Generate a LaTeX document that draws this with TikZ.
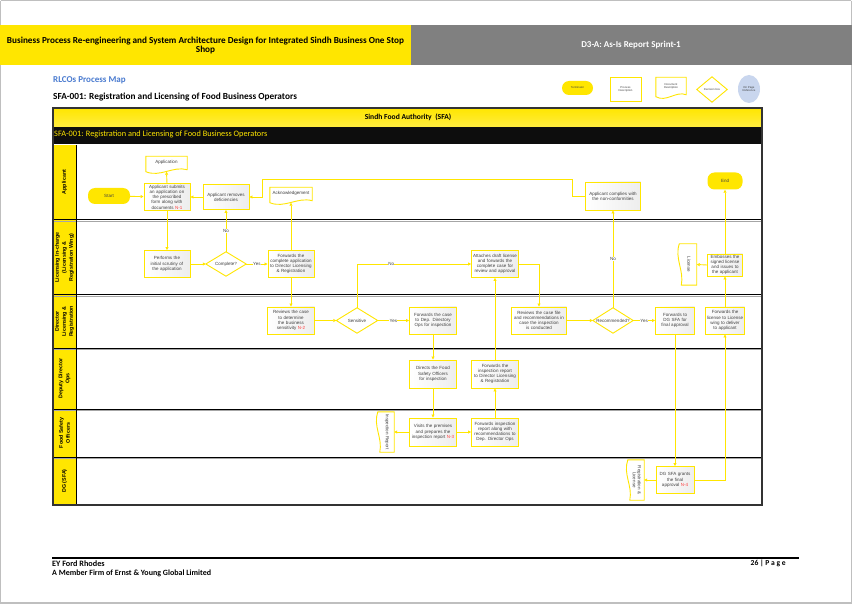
\documentclass[tikz,border=0pt]{standalone}
\usepackage{fontspec}
\setmainfont{Liberation Sans}
\newfontfamily\hdfont{Carlito}
\usetikzlibrary{arrows.meta,calc,shapes.geometric}
\definecolor{eyy}{HTML}{FFE600}
\definecolor{eyg}{HTML}{808080}
\definecolor{txtc}{HTML}{404040}
\definecolor{rlblue}{HTML}{4A7BD0}
\definecolor{refblue}{HTML}{C9D6EE}
\definecolor{nred}{HTML}{FF3B3B}
\newcommand\bxf{\fontsize{4.5}{5.2}\selectfont\hyphenpenalty=10000\exhyphenpenalty=10000}
\newcommand\nref[1]{\textcolor{nred}{#1}}
\newcommand\docH[1]{\draw[docln] (#1.north west) -- (#1.north east) -- ($(#1.south east)+(0,-2)$) .. controls ($(#1.south east)!0.35!(#1.south west)+(0,-6)$) and ($(#1.south east)!0.65!(#1.south west)+(0,6)$) .. ($(#1.south west)+(0,0)$) -- cycle;}
\newcommand\docV[1]{\draw[docln] (#1.north east) -- (#1.south east) -- ($(#1.south west)+(2,0)$) .. controls ($(#1.south west)!0.35!(#1.north west)+(5,0)$) and ($(#1.south west)!0.65!(#1.north west)+(-5,0)$) .. ($(#1.north west)+(0,0)$) -- cycle;}
\newcommand\diam[1]{\draw[docln] (#1.north) -- (#1.east) -- (#1.south) -- (#1.west) -- cycle;}
\begin{document}
\begin{tikzpicture}[x=1pt,y=-1pt,
  pbox/.style n args={2}{draw=eyy,line width=0.9pt,left color=white,right color=black!7,
     text width=#1pt,minimum height=#2pt,inner sep=1pt,align=center,font=\bxf,text=txtc},
  docbox/.style n args={2}{minimum width=#1pt,minimum height=#2pt,inner sep=0pt,align=center,font=\bxf,text=txtc},
  docln/.style={draw=eyy,line width=0.9pt},
  term/.style n args={2}{fill=eyy,rounded corners=7pt,minimum width=#1pt,minimum height=#2pt,inner sep=0pt,font=\bxf,text=txtc},
  conn/.style={draw=eyy,line width=0.9pt,-{Triangle[length=3pt,width=3pt]}},
  lbl/.style={fill=white,inner sep=0.4pt,font=\bxf,text=txtc},
  lane/.style={font=\fontsize{5.3}{7}\selectfont\bfseries,rotate=90,align=center,text=black},
  sep/.style={draw=black,line width=1pt},
  legtxt/.style={font=\fontsize{2.8}{3.3}\selectfont,text=txtc,align=center}
]
\useasboundingbox (0,0) rectangle (852,604);
\fill[white] (0,0) rectangle (852,604);
\draw[black!25,line width=1.2pt] (0.6,0.6) -- (851.4,0.6);
\draw[black!25,line width=1.2pt] (0.6,0.6) -- (0.6,603);
\draw[black!25,line width=1.2pt] (851.4,0.6) -- (851.4,603);
\draw[black!25,line width=2.5pt] (0,602.8) -- (852,602.8);

% page header
\fill[eyy] (0,25) rectangle (411,65);
\fill[eyg] (411,25) rectangle (852,65);
\node[font=\hdfont\bfseries\fontsize{9.2}{9.6}\selectfont,align=center,text=black] (ttl) at (205.5,45.5)
  {Business Process Re-engineering and System Architecture Design for Integrated Sindh Business One Stop\\Shop};
\node[font=\hdfont\bfseries\fontsize{9}{10}\selectfont,text=white] (rep) at (631,45) {D3-A: As-Is Report Sprint-1};
\node[font=\hdfont\bfseries\fontsize{9}{11}\selectfont,text=rlblue,anchor=west,inner sep=0pt] (rl) at (53,80) {RLCOs Process Map};
\node[font=\hdfont\bfseries\fontsize{9.3}{10}\selectfont,text=black,anchor=west,inner sep=0pt] (sfat) at (53,97) {SFA-001: Registration and Licensing of Food Business Operators};

% legend
\node[term={31}{14}] (lg1) at (577.5,88) {};
\node[legtxt] (lg1t) at (lg1) {Terminator};
\node[docbox={31}{24},draw=eyy,line width=0.7pt] (lg2) at (625.5,89.5) {};
\node[legtxt] (lg2t) at (lg2) {Process\\Description};
\node[docbox={30}{19}] (lg3) at (671,87) {};
\docH{lg3}
\node[legtxt] (lg3t) at (671,86) {Document\\Description};
\node[docbox={30}{25}] (lg4) at (712,89.5) {};
\diam{lg4}
\node[legtxt] (lg4t) at (lg4) {Decision box};
\node[draw=none,fill=refblue,ellipse,minimum width=22pt,minimum height=28pt,inner sep=0pt] (lg5) at (749,89) {};
\node[legtxt] (lg5t) at (lg5) {On Page\\Reference};

% frame
\fill[top color=eyy,bottom color=eyy!75!white] (53,108) rectangle (762,127);
\node[font=\hdfont\bfseries\fontsize{7.6}{8}\selectfont] (sfa) at (408,117.5) {Sindh Food Authority\ \ (SFA)};
\fill[black!95] (53,127) rectangle (762,144);
\node[font=\hdfont\fontsize{8.3}{9}\selectfont,text=eyy,anchor=west,inner sep=0pt] (sfab) at (54,134.5) {SFA-001: Registration and Licensing of Food Business Operators};
\fill[eyy] (53,145) rectangle (76,505);
\foreach \yy in {220,295,348,409,457} {
  \draw[black!35,line width=1pt] (53,\yy+1.3) -- (762,\yy+1.3);
  \draw[sep] (53,\yy) -- (762,\yy);
}
\draw[black,line width=0.8pt] (76,145) -- (76,505);
\draw[black!80,line width=1.3pt] (53,108) rectangle (762,505);

% lane labels
\node[lane] (l1) at (64.5,182) {Applicant};
\node[lane] (l2) at (64.5,257.5) {Licensing In-charge\\(Licensing \&\\Registration Wing)};
\node[lane] (l3) at (64.5,321.5) {Director\\Licensing \&\\Registration};
\node[lane] (l4) at (64.5,378.5) {Deputy Director\\Ops};
\node[lane] (l5) at (64.5,433) {Food Safety\\Officers};
\node[lane] (l6) at (64.5,481) {DG (SFA)};

% Applicant lane
\node[term={42}{16}] (start) at (109,196) {Start};
\node[docbox={41}{15}] (appdoc) at (166.5,164) {};
\docH{appdoc}
\node[font=\bxf,text=txtc] (appdoct) at (166.5,162.5) {Application};
\node[pbox={44}{25}] (submit) at (167,197) {Applicant submits an application on the prescribed form along with documents \nref{N-1}};
\node[pbox={44}{25}] (removes) at (226,197) {Applicant removes deficiencies};
\node[docbox={42}{15}] (ack) at (291,195) {};
\docH{ack}
\node[font=\bxf,text=txtc] (ackt) at (291,193.5) {Acknowledgement};
\node[pbox={53}{28}] (complies) at (613,196) {Applicant complies with the non-conformities};
\node[term={35}{17}] (end) at (725,181) {End};

% Licensing lane
\node[pbox={44}{27}] (scrutiny) at (167,264) {Performs the initial scrutiny of the application};
\node[docbox={40}{24}] (complete) at (226,264) {Complete?};
\diam{complete}
\node[pbox={44}{27}] (fwdapp) at (291,264) {Forwards the complete application to Director Licensing \& Registration};
\node[pbox={45}{27}] (attach) at (495,264) {Attaches draft license and forwards the complete case for review and approval};
\node[docbox={17}{41}] (licdoc) at (688,264.5) {};
\docV{licdoc}
\node[font=\bxf,text=txtc,rotate=-90] (licdoct) at (689,264.5) {License};
\node[pbox={33}{22}] (emboss) at (725,265) {Embosses the signed license and issues to the applicant};

% Director lane
\node[pbox={45}{27}] (review) at (291,320.5) {Reviews the case to determine the business sensitivity \nref{N-2}};
\node[docbox={41}{25}] (sensitive) at (357,320.5) {Sensitive};
\diam{sensitive}
\node[pbox={45}{27}] (fwdcase) at (433,320.5) {Forwards the case to Dep. Directory Ops for inspection};
\node[pbox={53}{27}] (reviewfile) at (539,320.5) {Reviews the case file and recommendations in case the inspection is conducted};
\node[docbox={40}{25}] (recommended) at (613,320.5) {Recommended?};
\diam{recommended}
\node[pbox={37}{27}] (fwddg) at (675,320.5) {Forwards to DG SFA for final approval};
\node[pbox={37}{27}] (fwdlic) at (725,320.5) {Forwards the license to License wing to deliver to applicant};

% Deputy lane
\node[pbox={45}{28}] (directs) at (433,374) {Directs the Food Safety Officers for inspection};
\node[pbox={45}{28}] (fwdrep) at (495,374) {Forwards the inspection report to Director Licensing \& Registration};

% Food Safety lane
\node[docbox={16}{40}] (inspdoc) at (386,432) {};
\docV{inspdoc}
\node[font=\bxf,text=txtc,rotate=-90] (inspdoct) at (387,432) {Inspection Report};
\node[pbox={45}{28}] (visits) at (433,432) {Visits the premises and prepares the inspection report \nref{N-3}};
\node[pbox={45}{28}] (fwdinsp) at (495,432) {Forwards inspection report along with recommendations to Dep. Director Ops};

% DG lane
\node[docbox={16}{40}] (regdoc) at (636,480) {};
\docV{regdoc}
\node[font=\bxf,text=txtc,rotate=-90,align=center] (regdoct) at (637,480) {Registration \&\\License};
\node[pbox={36}{27}] (grants) at (675,480) {DG SFA grants the final approval \nref{N-4}};

% helper coordinates
\coordinate (c1) at (572,179);
\coordinate (c2) at (262,179);

% connectors
\draw[conn] (start) -- (submit);
\draw[conn] (submit.north) -- (appdoc.south);
\draw[conn] (submit.south) -- (scrutiny.north);
\draw[conn] (scrutiny) -- (complete.west);
\draw[conn] (complete.east) -- node[lbl]{Yes} (fwdapp.west);
\draw[conn] (complete.north) -- node[lbl]{No} (removes.south);
\draw[conn] (removes.west) -- (submit.east);
\draw[conn] (fwdapp.north) -- (ack.south);
\draw[conn] (fwdapp.south) -- (review.north);
\draw[conn] (review.east) -- (sensitive.west);
\draw[conn] (sensitive.north) |- node[lbl,pos=0.65]{No} (attach.west);
\draw[conn] (sensitive.east) -- node[lbl]{Yes} (fwdcase.west);
\draw[conn] (fwdcase.south) -- (directs.north);
\draw[conn] (directs.south) -- (visits.north);
\draw[conn] (visits.west) -- (inspdoc.east);
\draw[conn] (visits.east) -- (fwdinsp.west);
\draw[conn] (fwdinsp.north) -- (fwdrep.south);
\draw[conn] (fwdrep.north) -- (attach.south);
\draw[conn] (attach.east) -| (reviewfile.north);
\draw[conn] (reviewfile.east) -- (recommended.west);
\draw[conn] (recommended.north) -- node[lbl]{No} (complies.south);
\draw[conn] (recommended.east) -- node[lbl]{Yes} (fwddg.west);
\draw[conn] (fwddg.south) -- (grants.north);
\draw[conn] (grants.west) -- (regdoc.east);
\draw[conn] (grants.east) -| (fwdlic.south);
\draw[conn] (fwdlic.north) -- (emboss.south);
\draw[conn] (emboss.west) -- (licdoc.east);
\draw[conn] (emboss.north) -- (end.south);
\draw[conn] (complies.west) -| (c1) -- (c2) |- (removes.east);

% footer
\draw[black,line width=1.2pt] (52,558) -- (799,558);
\node[font=\hdfont\bfseries\fontsize{8.2}{9}\selectfont,anchor=west,inner sep=0pt] (f1) at (52,563.5) {EY Ford Rhodes};
\node[font=\hdfont\bfseries\fontsize{8}{9}\selectfont,anchor=west,inner sep=0pt] (f2) at (52,573) {A Member Firm of Ernst \& Young Global Limited};
\node[font=\hdfont\bfseries\fontsize{7.6}{9}\selectfont,anchor=east,inner sep=0pt] (f3) at (786,563.5) {26 | P a g e};
\end{tikzpicture}
\end{document}
